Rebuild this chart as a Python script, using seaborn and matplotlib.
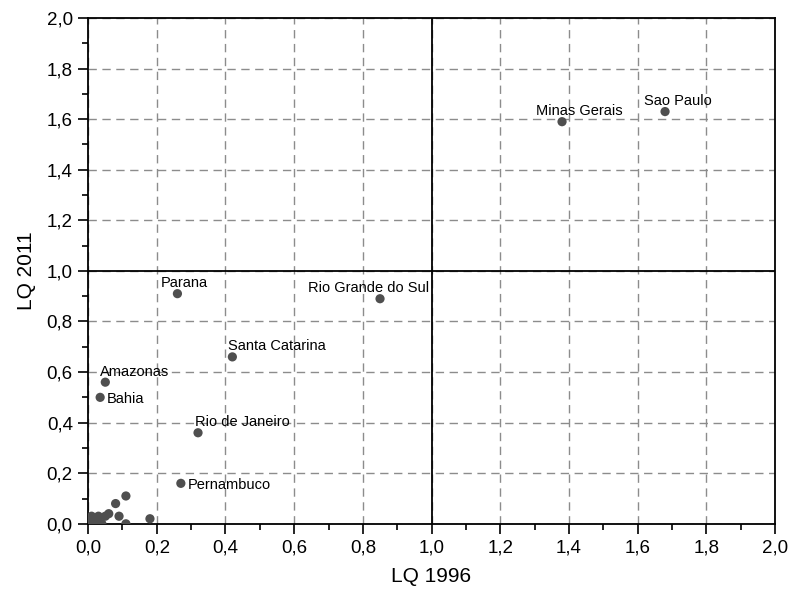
import pandas as pd
import seaborn as sns
import matplotlib.pyplot as plt
from matplotlib.ticker import MultipleLocator, FuncFormatter

# LQ values per state (1996 vs 2011)
states = ["Sao Paulo", "Minas Gerais", "Rio Grande do Sul", "Parana",
          "Santa Catarina", "Amazonas", "Bahia", "Rio de Janeiro", "Pernambuco"]
lq_1996 = [1.68, 1.38, 0.85, 0.26, 0.42, 0.05, 0.035, 0.32, 0.27]
lq_2011 = [1.63, 1.59, 0.89, 0.91, 0.66, 0.56, 0.50, 0.36, 0.16]

# small unlabeled states clustered near the origin
small_1996 = [0.11, 0.08, 0.06, 0.09, 0.18, 0.11, 0.05, 0.03, 0.01,
              0.00, 0.01, 0.02, 0.03, 0.04, 0.01, 0.03, 0.005]
small_2011 = [0.11, 0.08, 0.04, 0.03, 0.02, 0.00, 0.03, 0.03, 0.03,
              0.00, 0.01, 0.00, 0.01, 0.00, 0.00, 0.00, 0.02]

df = pd.DataFrame({"LQ 1996": lq_1996 + small_1996,
                   "LQ 2011": lq_2011 + small_2011})

# label placement (offset in points)
label_pos = {
    "Sao Paulo": (-15, 7.5),
    "Minas Gerais": (-19, 7.5),
    "Rio Grande do Sul": (-52, 7.5),
    "Parana": (-12, 7.5),
    "Santa Catarina": (-3, 7.5),
    "Amazonas": (-4, 7.5),
    "Bahia": (5, -1),
    "Rio de Janeiro": (-2, 7.5),
    "Pernambuco": (5, -1.5),
}

sns.set_style("white")
plt.rcParams["font.family"] = ["Liberation Sans", "DejaVu Sans"]
plt.rcParams["text.color"] = "black"
plt.rcParams["axes.labelcolor"] = "black"

fig = plt.figure(figsize=(7.94, 6.0), dpi=100)
ax = fig.add_axes([0.111, 0.127, 0.865, 0.843])

sns.scatterplot(data=df, x="LQ 1996", y="LQ 2011", ax=ax, color="#4f4f4f",
                s=44, edgecolor="none", zorder=3)

for name, x, y in zip(states, lq_1996, lq_2011):
    ax.annotate(name, (x, y), xytext=label_pos[name], textcoords="offset points",
                ha="left", va="center", fontsize=10.5, color="black", zorder=4)

ax.set_xlim(0, 2)
ax.set_ylim(0, 2)
ax.xaxis.set_major_locator(MultipleLocator(0.2))
ax.yaxis.set_major_locator(MultipleLocator(0.2))
ax.xaxis.set_minor_locator(MultipleLocator(0.1))
ax.yaxis.set_minor_locator(MultipleLocator(0.1))
fmt = FuncFormatter(lambda v, p: f"{v:.1f}".replace(".", ","))
ax.xaxis.set_major_formatter(fmt)
ax.yaxis.set_major_formatter(fmt)

ax.grid(True, which="major", linestyle=(0, (6, 4)), color="#8c8c8c", linewidth=1)
ax.set_axisbelow(True)
ax.axvline(1.0, color="black", linewidth=1.3, zorder=2)
ax.axhline(1.0, color="black", linewidth=1.3, zorder=2)

ax.tick_params(which="major", direction="out", length=7, width=1.2,
               labelsize=13.5, colors="black", bottom=True, left=True, pad=4)
ax.tick_params(which="minor", direction="out", length=4, width=1.2,
               colors="black", bottom=True, left=True)
for sp in ax.spines.values():
    sp.set_color("black")
    sp.set_linewidth(1.3)

ax.set_xlabel("LQ 1996", fontsize=15, labelpad=8)
ax.set_ylabel("LQ 2011", fontsize=15, labelpad=8)

fig.savefig("out.png", dpi=100)
